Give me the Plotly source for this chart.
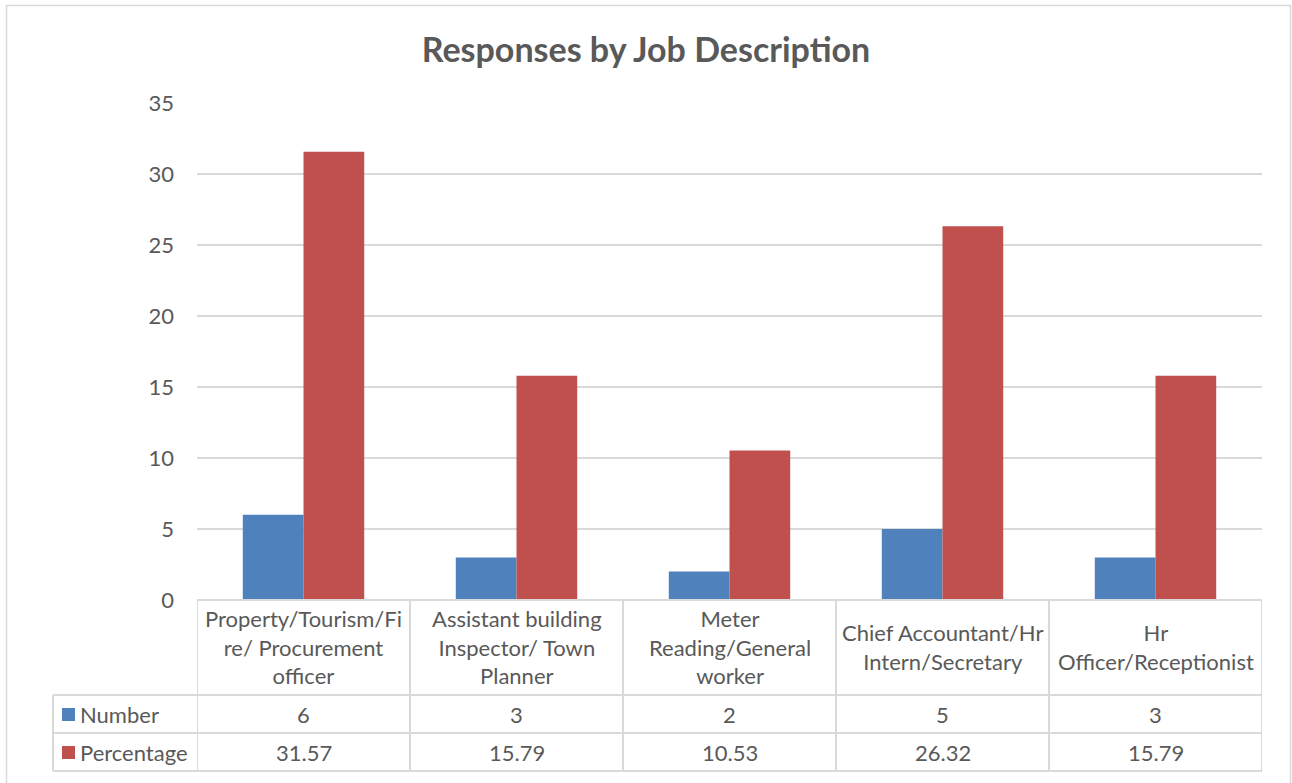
import plotly.graph_objects as go

# Data
categories = [
    "Property/Tourism/Fire/ Procurement officer",
    "Assistant building Inspector/ Town Planner",
    "Meter Reading/General worker",
    "Chief Accountant/Hr Intern/Secretary",
    "Hr Officer/Receptionist",
]
category_labels = [
    "Property/Tourism/Fi<br>re/ Procurement<br>officer",
    "Assistant building<br>Inspector/ Town<br>Planner",
    "Meter<br>Reading/General<br>worker",
    "Chief Accountant/Hr<br>Intern/Secretary",
    "Hr<br>Officer/Receptionist",
]
number = [6, 3, 2, 5, 3]
percentage = [31.57, 15.79, 10.53, 26.32, 15.79]
percentage_text = ["31.57", "15.79", "10.53", "26.32", "15.79"]
series_names = ["Number", "Percentage"]
y_ticks = [0, 5, 10, 15, 20, 25, 30, 35]

BLUE = "#4f81bd"
RED = "#c0504d"
GRID = "#d9d9d9"
TEXT = "#595959"
FONT = "Lato"

W, H = 1292, 783
L, R, T, B = 197, 30, 103, 183
PW, PH = W - L - R, H - T - B


def px_x(px):
    return (px - L) / PW


def px_y(py):
    return (H - B - py) / PH


fig = go.Figure()
fig.add_trace(go.Bar(x=categories, y=number, name=series_names[0],
                     marker=dict(color=BLUE, line=dict(width=0))))
fig.add_trace(go.Bar(x=categories, y=percentage, name=series_names[1],
                     marker=dict(color=RED, line=dict(width=0))))

shapes = []
annotations = []

# outer chart border (bottom edge runs past the page)
shapes.append(dict(type="rect", xref="paper", yref="paper",
                   x0=px_x(6.5), x1=px_x(1290.5), y0=px_y(795), y1=px_y(5.5),
                   line=dict(color=GRID, width=1.5), layer="below"))

# data table grid
row_tops = [600, 695, 733, 771]
table_left = 53
for i, yy in enumerate(row_tops):
    x0 = px_x(table_left) if i > 0 else 0
    shapes.append(dict(type="line", xref="paper", yref="paper",
                       x0=x0, x1=1, y0=px_y(yy), y1=px_y(yy),
                       line=dict(color=GRID, width=2)))
for k in range(len(categories) + 1):
    shapes.append(dict(type="line", xref="x", yref="paper",
                       x0=k - 0.5, x1=k - 0.5, y0=px_y(771), y1=px_y(600),
                       line=dict(color=GRID, width=2)))
shapes.append(dict(type="line", xref="paper", yref="paper",
                   x0=px_x(table_left), x1=px_x(table_left),
                   y0=px_y(771), y1=px_y(695),
                   line=dict(color=GRID, width=2)))

font = dict(family=FONT, size=22, color=TEXT)

# category header row
for c, lab in zip(categories, category_labels):
    annotations.append(dict(x=c, xref="x", y=px_y(647), yref="paper",
                            text=lab, showarrow=False, font=font,
                            xanchor="center", yanchor="middle", align="center"))

# series rows
rows = [(series_names[0], BLUE, [str(v) for v in number], 714),
        (series_names[1], RED, percentage_text, 752)]
for name, color, texts, yc in rows:
    shapes.append(dict(type="rect", xref="paper", yref="paper",
                       x0=px_x(62), x1=px_x(75), y0=px_y(yc + 7), y1=px_y(yc - 6),
                       fillcolor=color, line=dict(width=0)))
    annotations.append(dict(x=px_x(78), xref="paper", y=px_y(yc), yref="paper",
                            text=name, showarrow=False, font=font,
                            xanchor="left", yanchor="middle"))
    for c, t in zip(categories, texts):
        annotations.append(dict(x=c, xref="x", y=px_y(yc), yref="paper",
                                text=t, showarrow=False, font=font,
                                xanchor="center", yanchor="middle"))

fig.update_layout(
    width=W, height=H,
    margin=dict(l=L, r=R, t=T, b=B, autoexpand=False),
    paper_bgcolor="white", plot_bgcolor="white",
    barmode="group", bargap=0.43, bargroupgap=0,
    showlegend=False,
    title=dict(text="<b>Responses by Job Description</b>", x=0.5, xref="container",
               y=1 - 50 / H, yref="container", xanchor="center", yanchor="middle",
               font=dict(family=FONT, size=34, color=TEXT)),
    xaxis=dict(type="category", range=[-0.5, len(categories) - 0.5],
               showticklabels=False, showgrid=False, zeroline=False, showline=False,
               ticks=""),
    yaxis=dict(range=[0, 35], tickvals=y_ticks, showgrid=True, gridcolor=GRID,
               gridwidth=1.5, zeroline=False, showline=False, ticks="",
               tickfont=font, ticklabelstandoff=22),
    shapes=shapes,
    annotations=annotations,
)

fig.write_html("out.html")
